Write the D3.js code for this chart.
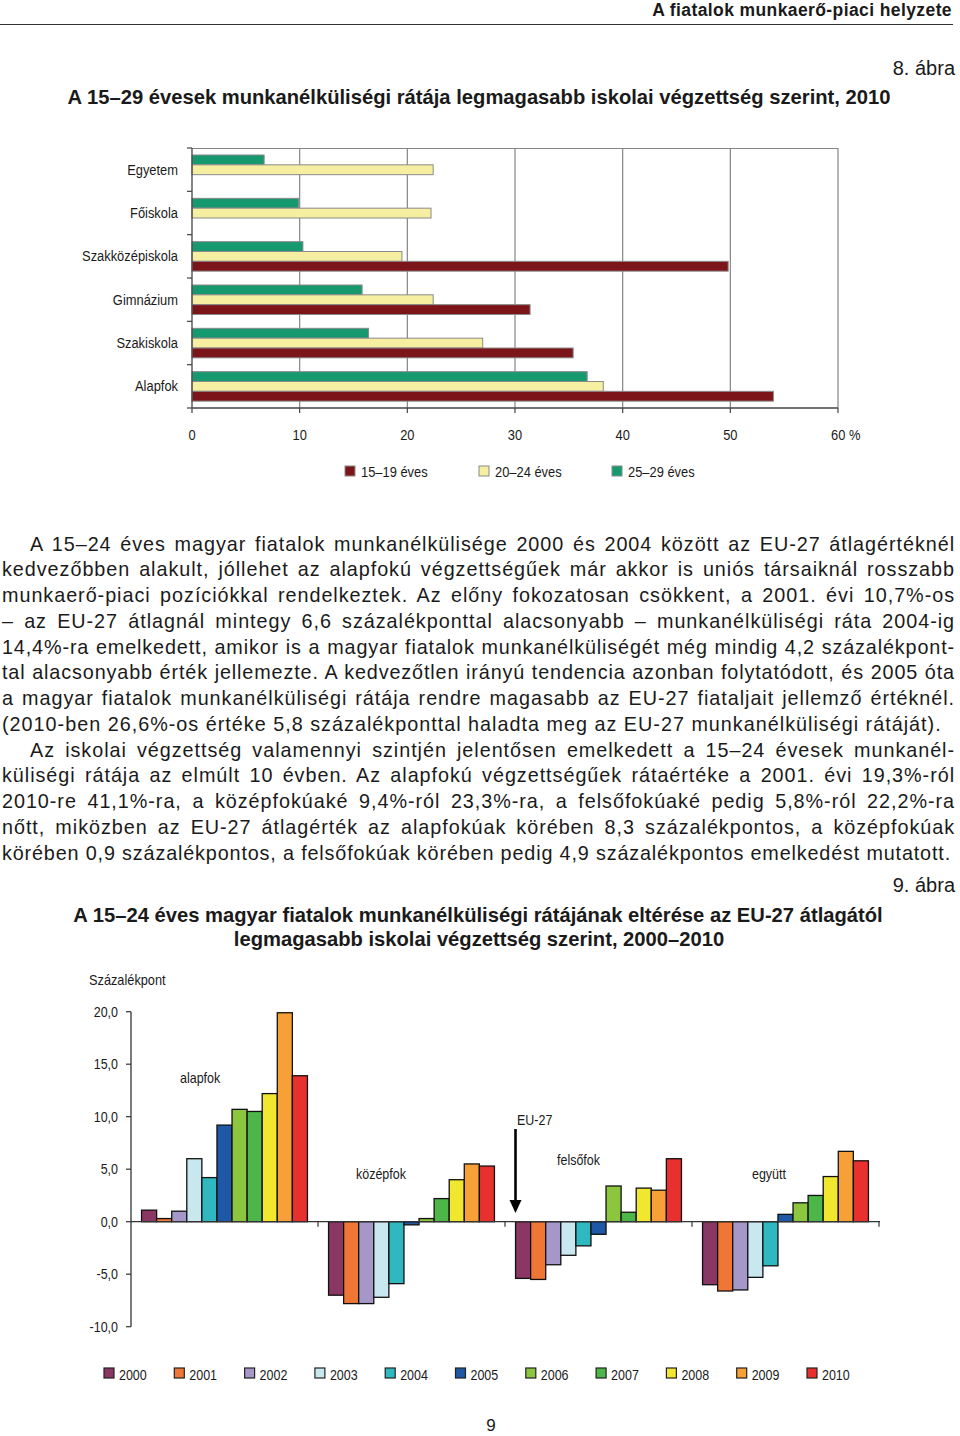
<!DOCTYPE html>
<html><head><meta charset="utf-8">
<script src="https://cdn.jsdelivr.net/npm/d3@7"></script>
<style>
body{margin:0;background:#fff;}
#page{position:relative;width:960px;height:1436px;overflow:hidden;font-family:"Liberation Sans",Arial,Helvetica,sans-serif;}
svg{position:absolute;left:0;top:0;}
.para{position:absolute;left:0;font-size:19.8px;letter-spacing:1px;line-height:25.75px;color:#1a1a1a;}
.para div{white-space:nowrap;}
.para div.j{text-align:justify;text-align-last:justify;}
</style></head><body><div id="page"></div>
<script>
// ---------- DATA ----------
const schoolLevels = ["Egyetem","Főiskola","Szakközépiskola","Gimnázium","Szakiskola","Alapfok"];
const ageLabels = ["15–19 éves","20–24 éves","25–29 éves"];
const rate15_19 = [null, null, 49.8, 31.4, 35.4, 54.0];
const rate20_24 = [22.4, 22.2, 19.5, 22.4, 27.0, 38.2];
const rate25_29 = [6.7, 9.9, 10.3, 15.8, 16.4, 36.7];
const topTicks = [0,10,20,30,40,50,60];

const eduGroups = ["alapfok","középfok","felsőfok","együtt"];
const years = ["2000","2001","2002","2003","2004","2005","2006","2007","2008","2009","2010"];
const devAlapfok  = [1.1, 0.3, 1.0, 6.0, 4.2, 9.2, 10.7, 10.5, 12.2, 19.9, 13.9];
const devKozepfok = [-7.0, -7.8, -7.8, -7.2, -5.9, -0.3, 0.3, 2.2, 4.0, 5.5, 5.3];
const devFelsofok = [-5.4, -5.5, -4.1, -3.2, -2.3, -1.2, 3.4, 0.9, 3.2, 3.0, 6.0];
const devEgyutt   = [-6.0, -6.6, -6.5, -5.3, -4.2, 0.7, 1.8, 2.5, 4.3, 6.7, 5.8];
const devTicks = [20,15,10,5,0,-5,-10];

const paraLines = [
 ["A 15–24 éves magyar fiatalok munkanélkülisége 2000 és 2004 között az EU-27 átlagértéknél", true, true],
 ["kedvezőbben alakult, jóllehet az alapfokú végzettségűek már akkor is uniós társaiknál rosszabb", false, true],
 ["munkaerő-piaci pozíciókkal rendelkeztek.  Az előny fokozatosan csökkent, a 2001. évi 10,7%-os", false, true],
 ["– az EU-27 átlagnál mintegy 6,6 százalékponttal alacsonyabb – munkanélküliségi ráta 2004-ig", false, true],
 ["14,4%-ra emelkedett, amikor is a magyar fiatalok munkanélküliségét még mindig 4,2 százalékpont-", false, true],
 ["tal alacsonyabb érték jellemezte. A kedvezőtlen irányú tendencia azonban folytatódott, és 2005 óta", false, true],
 ["a magyar fiatalok munkanélküliségi rátája rendre magasabb az EU-27 fiataljait jellemző értéknél.", false, true],
 ["(2010-ben 26,6%-os értéke 5,8 százalékponttal haladta meg az EU-27 munkanélküliségi rátáját).", false, false],
 ["Az iskolai végzettség valamennyi szintjén jelentősen emelkedett a 15–24 évesek munkanél-", true, true],
 ["küliségi rátája az elmúlt 10 évben. Az alapfokú végzettségűek rátaértéke a 2001. évi 19,3%-ról", false, true],
 ["2010-re 41,1%-ra, a középfokúaké 9,4%-ról 23,3%-ra, a felsőfokúaké pedig 5,8%-ról 22,2%-ra", false, true],
 ["nőtt, miközben az EU-27 átlagérték az alapfokúak körében 8,3 százalékpontos, a középfokúak", false, true],
 ["körében 0,9 százalékpontos, a felsőfokúak körében pedig 4,9 százalékpontos emelkedést mutatott.", false, false]
];

// ---------- STYLE ----------
const ageColors = {"15–19 éves":"#7c1519","20–24 éves":"#f6efa2","25–29 éves":"#17996f"};
const yearColors = ["#8a3764","#f07636","#a697c9","#c9e7ef","#2fb8c0","#1e58a6","#8cc63f","#4cb748","#f1e72f","#f7a038","#e8302f"];
const COND1 = 0.92;
const COND2 = 0.86;

const page = d3.select("#page");
const svg = page.append("svg").attr("width",960).attr("height",1436);

function condense(sel, f){
  sel.each(function(){
    const l = this.getComputedTextLength();
    d3.select(this).attr("textLength", l*f).attr("lengthAdjust","spacingAndGlyphs");
  });
  return sel;
}
function label(g, x, y, txt, size, anchor, weight){
  return g.append("text").attr("x",x).attr("y",y).text(txt)
    .attr("font-size",size).attr("text-anchor",anchor||"start")
    .attr("font-weight",weight||"normal").attr("fill","#1a1a1a");
}

// ---------- PAGE HEADER ----------
label(svg, 952, 16, "A fiatalok munkaerő-piaci helyzete", 17.5, "end", "bold").attr("letter-spacing","0.4px");
svg.append("line").attr("x1",0).attr("x2",953).attr("y1",24.5).attr("y2",24.5).attr("stroke","#333").attr("stroke-width",1.2);
label(svg, 955, 75, "8. ábra", 20, "end");
label(svg, 479, 104, "A 15–29 évesek munkanélküliségi rátája legmagasabb iskolai végzettség szerint, 2010", 20.2, "middle", "bold");

// ---------- CHART 1 (horizontal bars) ----------
const g1 = svg.append("g");
const x1 = d3.scaleLinear().domain([0,60]).range([192,838]);
const yBand = d3.scaleBand().domain(schoolLevels).range([148,408]);
const ySub = d3.scaleBand().domain(["25–29 éves","20–24 éves","15–19 éves"]).range([7,36.5]);

g1.selectAll("line.grid").data(topTicks.slice(1)).join("line")
  .attr("x1",d=>x1(d)).attr("x2",d=>x1(d)).attr("y1",148).attr("y2",408)
  .attr("stroke","#858585").attr("stroke-width",1.2);
g1.append("line").attr("x1",x1(0)).attr("x2",x1(60)).attr("y1",148.5).attr("y2",148.5).attr("stroke","#858585").attr("stroke-width",1.2);

const series1 = [
  {key:"25–29 éves", vals:rate25_29},
  {key:"20–24 éves", vals:rate20_24},
  {key:"15–19 éves", vals:rate15_19}
];
series1.forEach(s=>{
  g1.selectAll(null).data(schoolLevels.map((c,i)=>({c, v:s.vals[i]})).filter(d=>d.v!=null)).join("rect")
    .attr("x",x1(0)).attr("y",d=>yBand(d.c)+ySub(s.key))
    .attr("width",d=>x1(d.v)-x1(0)).attr("height",ySub.bandwidth())
    .attr("fill",ageColors[s.key]).attr("stroke","#8a8a8a").attr("stroke-width",1);
});

g1.append("line").attr("x1",192).attr("x2",192).attr("y1",148).attr("y2",408).attr("stroke","#444").attr("stroke-width",1.3);
g1.append("line").attr("x1",192).attr("x2",838).attr("y1",408).attr("y2",408).attr("stroke","#444").attr("stroke-width",1.3);
const bounds = schoolLevels.map(c=>yBand(c)).concat([408]);
g1.selectAll("line.ytick").data(bounds).join("line")
  .attr("x1",187).attr("x2",192).attr("y1",d=>d).attr("y2",d=>d).attr("stroke","#444").attr("stroke-width",1.2);
g1.selectAll("line.xtick").data(topTicks).join("line")
  .attr("x1",d=>x1(d)).attr("x2",d=>x1(d)).attr("y1",408).attr("y2",413).attr("stroke","#444").attr("stroke-width",1.2);

schoolLevels.forEach(c=>{
  condense(label(g1, 178, yBand(c)+yBand.bandwidth()/2+5, c, 14, "end"), COND1);
});
topTicks.forEach(t=>{
  if (t===60) condense(label(g1, x1(t)-7, 440, "60 %", 14, "start"), COND1);
  else condense(label(g1, x1(t), 440, String(t), 14, "middle"), COND1);
});
const leg1X = [345, 479, 612];
ageLabels.forEach((a,i)=>{
  g1.append("rect").attr("x",leg1X[i]).attr("y",466).attr("width",10).attr("height",10)
    .attr("fill",ageColors[a]).attr("stroke","#8a8a8a").attr("stroke-width",1);
  condense(label(g1, leg1X[i]+16, 477, a, 14, "start"), COND1);
});

// ---------- PARAGRAPHS ----------
const para = page.append("div").attr("class","para").style("top",(551.5-19.8)+"px");
paraLines.forEach(([t, indent, just])=>{
  const left = indent ? 30 : 2;
  const target = 955 - left;
  const div = para.append("div").attr("class", just ? "j" : null)
    .style("margin-left", left+"px")
    .style("width", target+"px");
  const span = div.append("span").text(t);
  const w = span.node().getBoundingClientRect().width;
  if (w > target - 2) {
    const ls = 1 - (w - target + 4) / t.length;
    div.style("letter-spacing", ls.toFixed(3)+"px");
  }
  span.remove();
  div.text(t);
});

// ---------- CHART 2 HEADER ----------
label(svg, 955, 892, "9. ábra", 20, "end");
label(svg, 478, 922, "A 15–24 éves magyar fiatalok munkanélküliségi rátájának eltérése az EU-27 átlagától", 20.2, "middle", "bold");
label(svg, 479, 946, "legmagasabb iskolai végzettség szerint, 2000–2010", 20.2, "middle", "bold");

// ---------- CHART 2 (grouped columns) ----------
const g2 = svg.append("g");
condense(label(g2, 89, 985, "Százalékpont", 14.5, "start"), 0.88);
const xg = d3.scaleBand().domain(eduGroups).range([131,879]);
const xy = d3.scaleBand().domain(years).range([0, xg.bandwidth()]).paddingInner(0).paddingOuter(0.7);
const y2 = d3.scaleLinear().domain([-10,20]).range([1326.7,1011.7]);

const series2 = [
  {g:"alapfok", vals:devAlapfok},
  {g:"középfok", vals:devKozepfok},
  {g:"felsőfok", vals:devFelsofok},
  {g:"együtt", vals:devEgyutt}
];
series2.forEach(s=>{
  g2.selectAll(null).data(years.map((yr,i)=>({yr, i, v:s.vals[i]}))).join("rect")
    .attr("x",d=>xg(s.g)+xy(d.yr))
    .attr("y",d=>y2(Math.max(0,d.v)))
    .attr("width",xy.bandwidth())
    .attr("height",d=>Math.abs(y2(d.v)-y2(0)))
    .attr("fill",d=>yearColors[d.i]).attr("stroke","#111").attr("stroke-width",1.3);
});
g2.append("line").attr("x1",131).attr("x2",131).attr("y1",y2(20)).attr("y2",y2(-10)).attr("stroke","#333").attr("stroke-width",1.3);
g2.append("line").attr("x1",131).attr("x2",880).attr("y1",y2(0)).attr("y2",y2(0)).attr("stroke","#333").attr("stroke-width",1.3);
g2.selectAll("line.yt").data(devTicks).join("line")
  .attr("x1",126).attr("x2",131).attr("y1",d=>y2(d)).attr("y2",d=>y2(d)).attr("stroke","#333").attr("stroke-width",1.2);
g2.selectAll("line.xt").data(eduGroups.slice(1).map(g=>xg(g)).concat([879])).join("line")
  .attr("x1",d=>d).attr("x2",d=>d).attr("y1",y2(0)).attr("y2",y2(0)+5).attr("stroke","#333").attr("stroke-width",1.2);
devTicks.forEach(t=>{
  const txt = d3.format(".1f")(t).replace(".",",").replace("\u2212","-");
  condense(label(g2, 118, y2(t)+5, txt, 14.5, "end"), COND2);
});
condense(label(g2, 180, 1083, "alapfok", 14.5, "start"), COND2);
condense(label(g2, 356, 1179, "középfok", 14.5, "start"), COND2);
condense(label(g2, 557, 1165, "felsőfok", 14.5, "start"), COND2);
condense(label(g2, 752, 1179, "együtt", 14.5, "start"), COND2);
condense(label(g2, 517, 1125, "EU-27", 14.5, "start"), COND2);
g2.append("line").attr("x1",515.5).attr("x2",515.5).attr("y1",1129).attr("y2",1202).attr("stroke","#000").attr("stroke-width",2.6);
g2.append("path").attr("d","M509.5,1200 L521.5,1200 L515.5,1213 Z").attr("fill","#000");

years.forEach((yr,i)=>{
  const lx = 104 + i*70.3;
  g2.append("rect").attr("x",lx).attr("y",1368).attr("width",10).attr("height",10)
    .attr("fill",yearColors[i]).attr("stroke","#222").attr("stroke-width",1.2);
  condense(label(g2, lx+15, 1380, yr, 14.5, "start"), COND2);
});

label(svg, 491, 1431, "9", 17, "middle");
</script>
</body></html>
